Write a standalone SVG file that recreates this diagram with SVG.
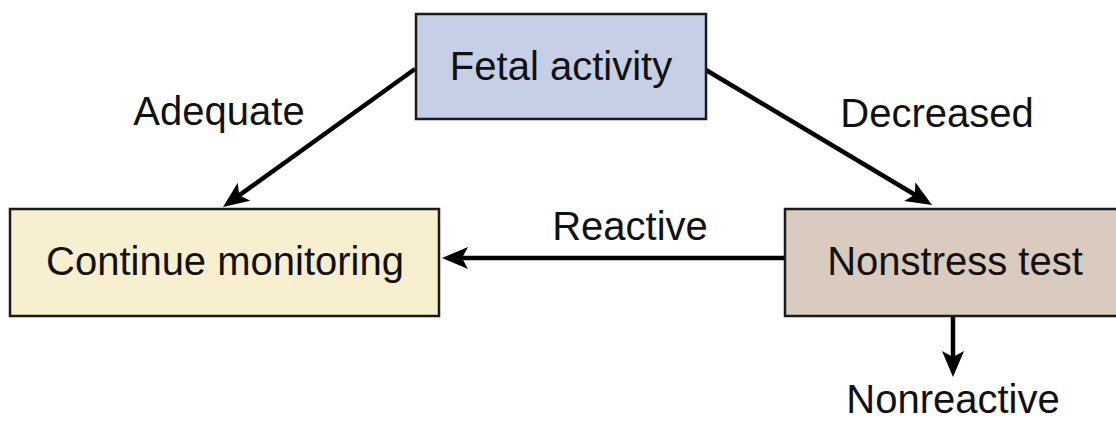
<svg xmlns="http://www.w3.org/2000/svg" width="1116" height="421" viewBox="0 0 1116 421">
  <style>
    .box { stroke: #1a1a1a; stroke-width: 2.5; }
    .t { font-family: "Liberation Sans", Arial, sans-serif; font-size: 40px; fill: #111; text-anchor: middle; }
    .c { stroke: #000; stroke-width: 4.5; fill: none; marker-end: url(#ah); }
  </style>
  <defs>
    <marker id="ah" markerUnits="userSpaceOnUse" viewBox="0 0 26 22" markerWidth="26" markerHeight="22" refX="10" refY="11" orient="auto">
      <path d="M0,0 L26,11 L0,22 L6,11 Z" fill="#000"/>
    </marker>
  </defs>
  <rect width="1116" height="421" fill="#fff"/>
  <g id="connectors">
    <line class="c" x1="415" y1="69" x2="236" y2="197.6"/>
    <line class="c" x1="706" y1="70" x2="918.3" y2="196.8"/>
    <line class="c" x1="785" y1="258" x2="458" y2="258"/>
    <line class="c" x1="953" y1="316" x2="953" y2="361"/>
  </g>
  <g id="fetal-activity">
    <rect class="box" x="416" y="14" width="290" height="105" fill="#c5cfe5"/>
    <text class="t" x="561" y="80">Fetal activity</text>
  </g>
  <g id="continue-monitoring">
    <rect class="box" x="10" y="209" width="429" height="107" fill="#f8efcf"/>
    <text class="t" x="225" y="275">Continue monitoring</text>
  </g>
  <g id="nonstress-test">
    <rect class="box" x="785" y="209" width="335" height="107" fill="#d9cbbe"/>
    <text class="t" x="955" y="275">Nonstress test</text>
  </g>
  <g id="labels">
    <text class="t" x="219" y="125">Adequate</text>
    <text class="t" x="937" y="127">Decreased</text>
    <text class="t" x="630" y="240">Reactive</text>
    <text class="t" x="953" y="413">Nonreactive</text>
  </g>
</svg>
